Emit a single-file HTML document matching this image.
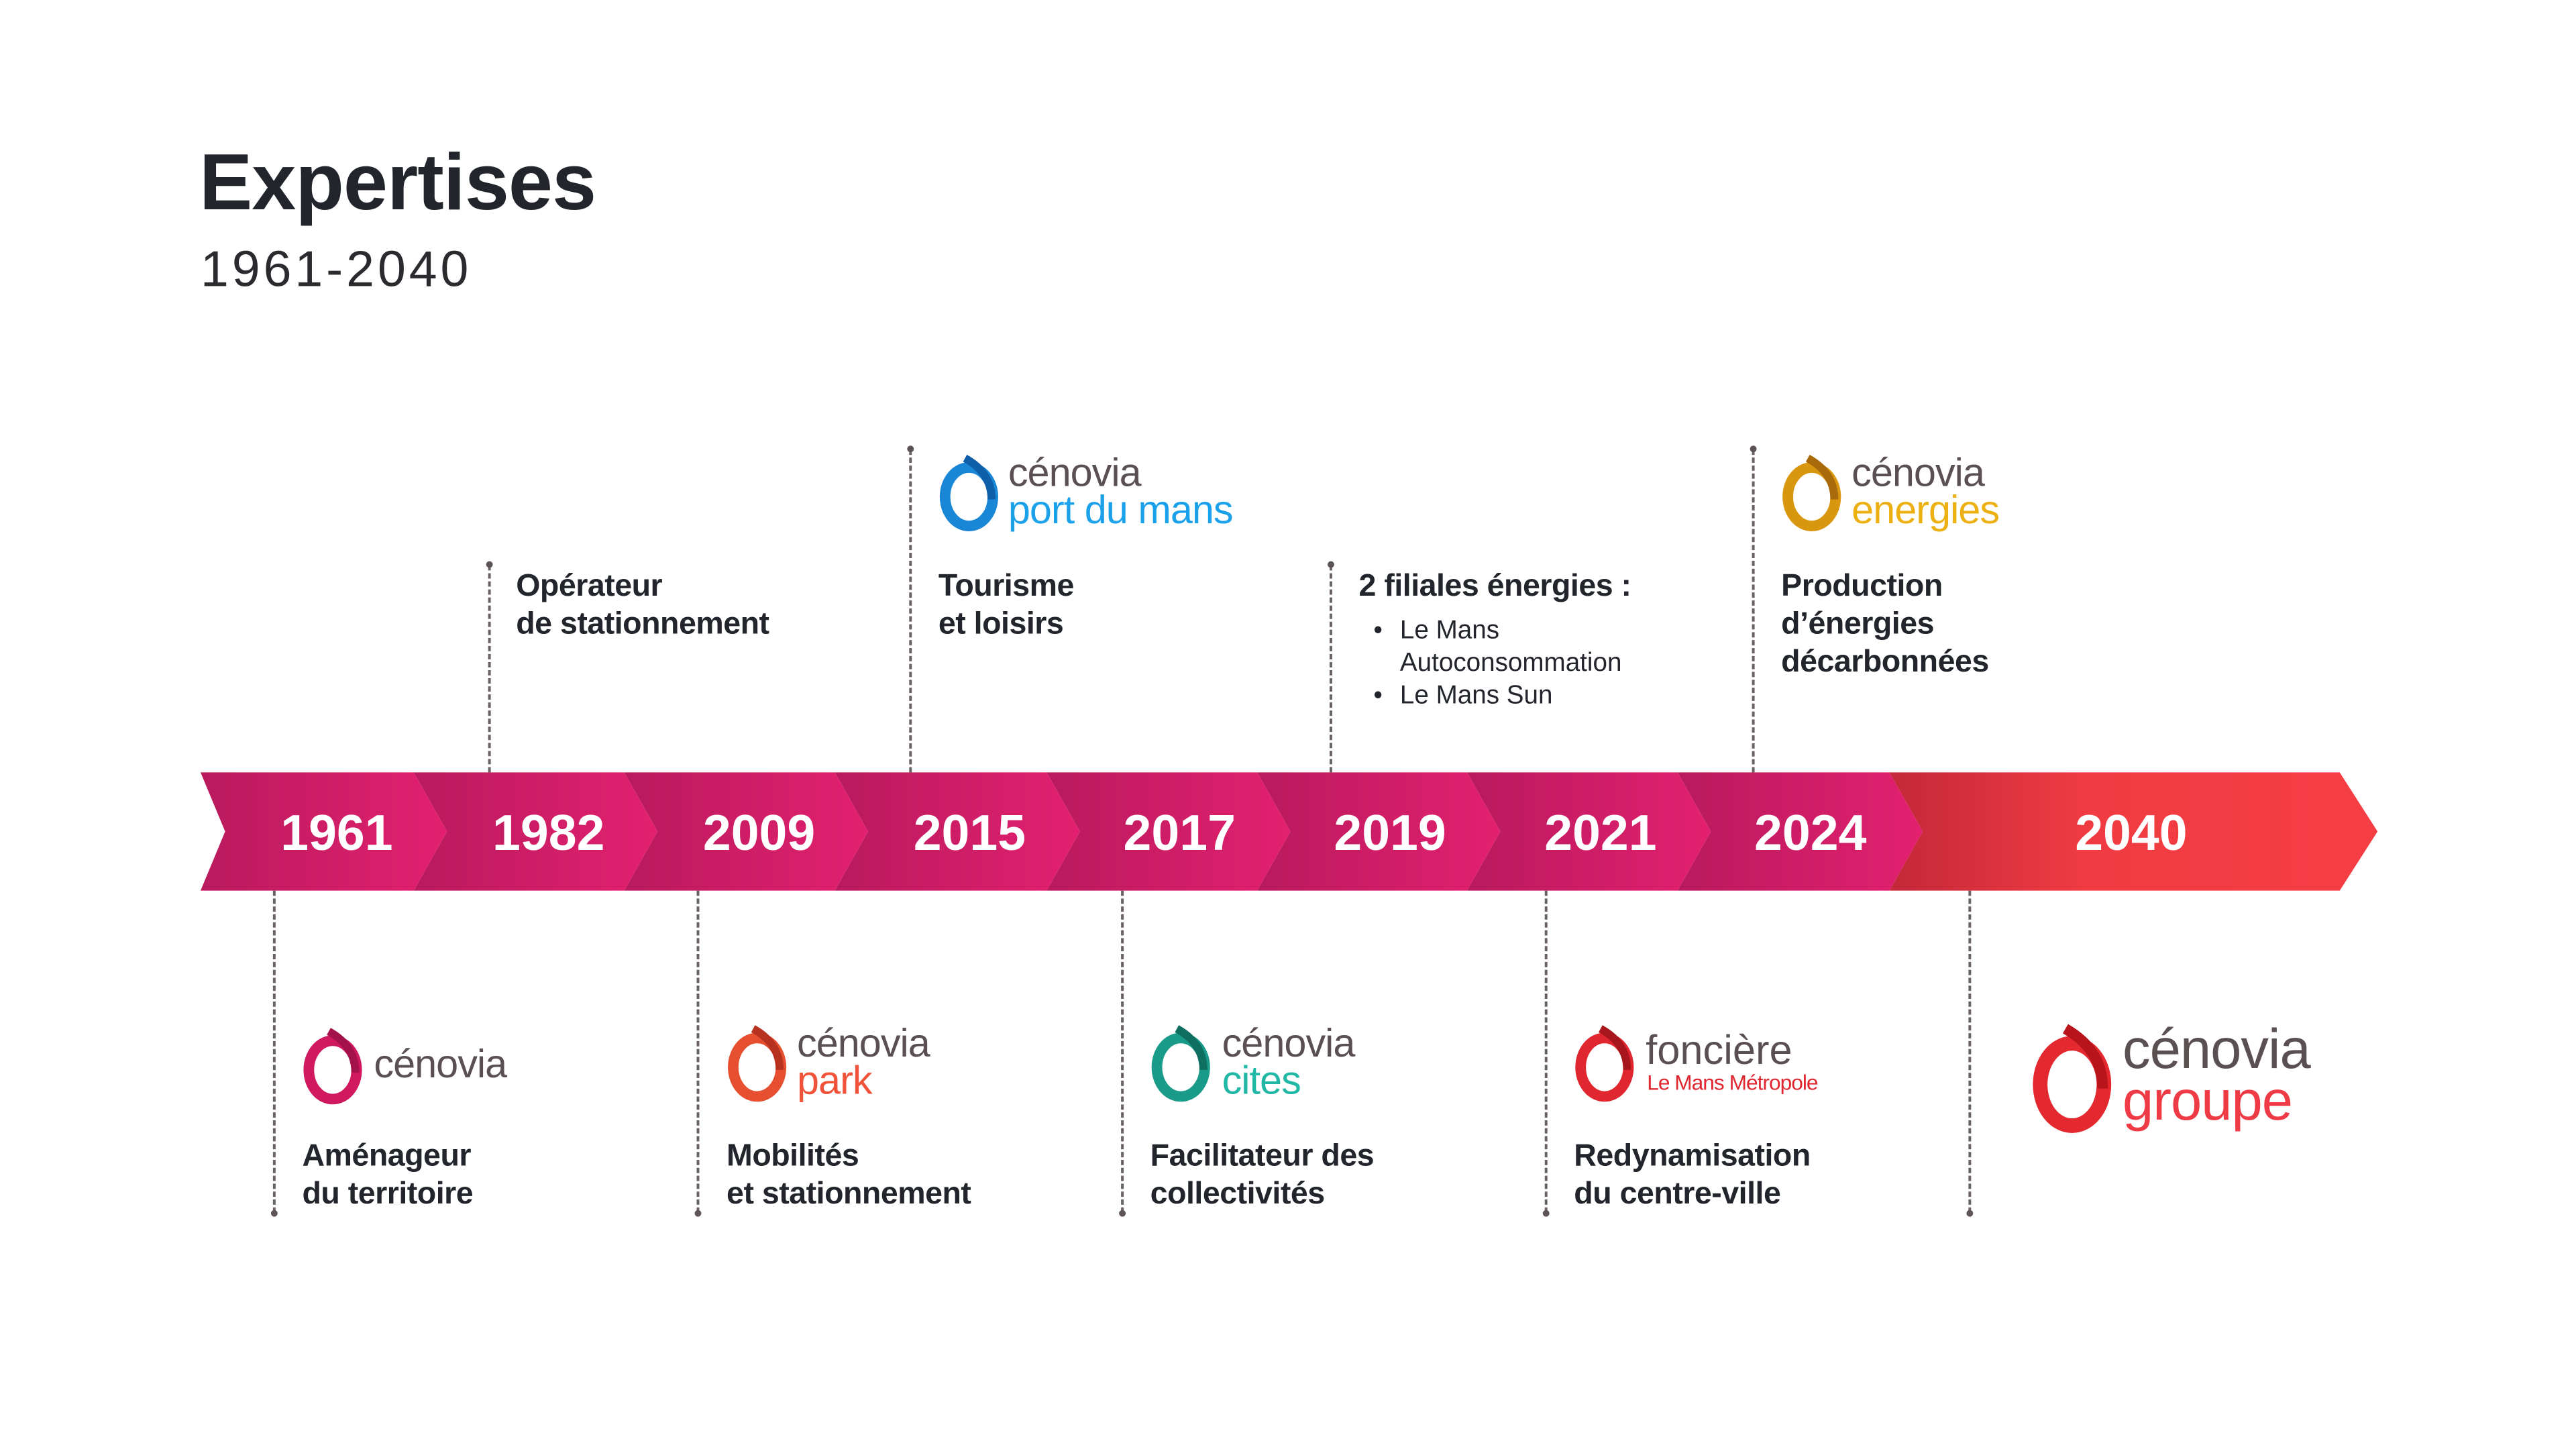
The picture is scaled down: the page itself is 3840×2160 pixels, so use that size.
<!DOCTYPE html>
<html><head><meta charset="utf-8">
<style>
body{margin:0;width:3840px;height:2160px;background:#fff;position:relative;overflow:hidden;font-family:"Liberation Sans",sans-serif;color:#23252d}
#w{position:absolute;left:0;top:0;width:3880px;height:2182px;transform:scale(0.99);transform-origin:0 0}
.a{position:absolute;white-space:nowrap}
.t{font-size:47px;line-height:57px;font-weight:bold;letter-spacing:-0.5px}
.b{font-size:39px;line-height:49px}
.lg{font-size:60px;line-height:56px;letter-spacing:-1px}
.g{color:#5b5051}
.dash{position:absolute;width:0;border-left:4px dashed #6a6163}
.dot{position:absolute;width:10px;height:10px;border-radius:5px;background:#5b5356}
</style></head><body><div id="w">
<div class="a" style="left:300px;top:205px;font-size:120px;font-weight:bold;letter-spacing:-1px">Expertises</div>
<div class="a" style="left:302px;top:362px;font-size:76px;color:#2b2b2f;letter-spacing:5px">1961-2040</div>

<svg class="a" style="left:0;top:0" width="3880" height="2182">
<defs>
<linearGradient id="p" x1="0" x2="1"><stop offset="0" stop-color="#b91a5d"/><stop offset="1" stop-color="#e3206f"/></linearGradient>
<linearGradient id="r" x1="0" x2="1"><stop offset="0" stop-color="#c3283a"/><stop offset="0.4" stop-color="#f03b42"/><stop offset="1" stop-color="#f53e44"/></linearGradient>
</defs>
<polygon points="2845,1163 3523,1163 3580,1252 3523,1341 2845,1341 2895,1252" fill="url(#r)"/>
<polygon points="2526,1163 2845,1163 2895,1252 2845,1341 2526,1341 2576,1252" fill="url(#p)"/>
<polygon points="2209,1163 2526,1163 2576,1252 2526,1341 2209,1341 2259,1252" fill="url(#p)"/>
<polygon points="1893,1163 2209,1163 2259,1252 2209,1341 1893,1341 1943,1252" fill="url(#p)"/>
<polygon points="1576,1163 1893,1163 1943,1252 1893,1341 1576,1341 1626,1252" fill="url(#p)"/>
<polygon points="1257,1163 1576,1163 1626,1252 1576,1341 1257,1341 1307,1252" fill="url(#p)"/>
<polygon points="940,1163 1257,1163 1307,1252 1257,1341 940,1341 990,1252" fill="url(#p)"/>
<polygon points="623,1163 940,1163 990,1252 940,1341 623,1341 673,1252" fill="url(#p)"/>
<polygon points="302,1163 623,1163 673,1252 623,1341 302,1341 339,1252" fill="url(#p)"/>
<g fill="#fff" font-family="Liberation Sans" font-weight="bold" font-size="76" text-anchor="middle">
<text x="507" y="1280">1961</text><text x="826" y="1280">1982</text><text x="1143" y="1280">2009</text>
<text x="1460" y="1280">2015</text><text x="1776" y="1280">2017</text><text x="2093" y="1280">2019</text>
<text x="2410" y="1280">2021</text><text x="2726" y="1280">2024</text><text x="3209" y="1280">2040</text>
</g>
</svg>

<div class="dash" style="left:735px;top:851px;height:312px"></div><div class="dot" style="left:732px;top:845px"></div>
<div class="dash" style="left:1369px;top:677px;height:486px"></div><div class="dot" style="left:1366px;top:671px"></div>
<div class="dash" style="left:2002px;top:851px;height:312px"></div><div class="dot" style="left:1999px;top:845px"></div>
<div class="dash" style="left:2638px;top:677px;height:486px"></div><div class="dot" style="left:2635px;top:671px"></div>
<div class="dash" style="left:411px;top:1341px;height:485px"></div><div class="dot" style="left:408px;top:1822px"></div>
<div class="dash" style="left:1049px;top:1341px;height:485px"></div><div class="dot" style="left:1046px;top:1822px"></div>
<div class="dash" style="left:1688px;top:1341px;height:485px"></div><div class="dot" style="left:1685px;top:1822px"></div>
<div class="dash" style="left:2326px;top:1341px;height:485px"></div><div class="dot" style="left:2323px;top:1822px"></div>
<div class="dash" style="left:2964px;top:1341px;height:485px"></div><div class="dot" style="left:2961px;top:1822px"></div>

<div class="a t" style="left:777px;top:852px">Opérateur<br>de stationnement</div>
<div class="a t" style="left:1413px;top:852px">Tourisme<br>et loisirs</div>
<div class="a t" style="left:2046px;top:852px">2 filiales énergies :</div>
<div class="a b" style="left:2068px;top:924px">•<br><br>•</div>
<div class="a b" style="left:2108px;top:924px">Le Mans<br>Autoconsommation<br>Le Mans Sun</div>
<div class="a t" style="left:2682px;top:852px">Production<br>d’énergies<br>décarbonnées</div>

<div class="a t" style="left:455px;top:1710px">Aménageur<br>du territoire</div>
<div class="a t" style="left:1094px;top:1710px">Mobilités<br>et stationnement</div>
<div class="a t" style="left:1732px;top:1710px">Facilitateur des<br>collectivités</div>
<div class="a t" style="left:2370px;top:1710px">Redynamisation<br>du centre-ville</div>

<svg class="a" style="left:1413px;top:682px" width="96" height="118"><ellipse cx="46" cy="66" rx="36" ry="44" fill="none" stroke="#1a86d6" stroke-width="16"/><path d="M40 8 Q80 30 80 70" fill="none" stroke="#0f5ea8" stroke-width="12"/></svg>
<div class="a lg" style="left:1518px;top:684px"><span class="g">cénovia</span><br><span style="color:#1ba0ea">port du mans</span></div>

<svg class="a" style="left:2682px;top:682px" width="96" height="118"><ellipse cx="46" cy="66" rx="36" ry="44" fill="none" stroke="#d9970f" stroke-width="16"/><path d="M40 8 Q80 30 80 70" fill="none" stroke="#a86a0a" stroke-width="12"/></svg>
<div class="a lg" style="left:2788px;top:684px"><span class="g">cénovia</span><br><span style="color:#ecb012">energies</span></div>

<svg class="a" style="left:455px;top:1545px" width="96" height="118"><ellipse cx="46" cy="66" rx="36" ry="44" fill="none" stroke="#d0195f" stroke-width="16"/><path d="M40 8 Q80 30 80 70" fill="none" stroke="#a3124a" stroke-width="12"/></svg>
<div class="a lg" style="left:563px;top:1574px"><span class="g">cénovia</span></div>

<svg class="a" style="left:1094px;top:1541px" width="96" height="118"><ellipse cx="46" cy="66" rx="36" ry="44" fill="none" stroke="#e65030" stroke-width="16"/><path d="M40 8 Q80 30 80 70" fill="none" stroke="#b83220" stroke-width="12"/></svg>
<div class="a lg" style="left:1200px;top:1543px"><span class="g">cénovia</span><br><span style="color:#f0533a">park</span></div>

<svg class="a" style="left:1732px;top:1541px" width="96" height="118"><ellipse cx="46" cy="66" rx="36" ry="44" fill="none" stroke="#1a9a88" stroke-width="16"/><path d="M40 8 Q80 30 80 70" fill="none" stroke="#0e6e60" stroke-width="12"/></svg>
<div class="a lg" style="left:1840px;top:1543px"><span class="g">cénovia</span><br><span style="color:#20b8a4">cites</span></div>

<svg class="a" style="left:2370px;top:1541px" width="96" height="118"><ellipse cx="46" cy="66" rx="36" ry="44" fill="none" stroke="#e0262f" stroke-width="16"/><path d="M40 8 Q80 30 80 70" fill="none" stroke="#a8161d" stroke-width="12"/></svg>
<div class="a" style="left:2478px;top:1552px;font-size:62px;line-height:60px;color:#5b5051">foncière</div>
<div class="a" style="left:2480px;top:1612px;font-size:32px;color:#e0262f;letter-spacing:-1px">Le Mans Métropole</div>

<svg class="a" style="left:3058px;top:1541px" width="128" height="166"><ellipse cx="62" cy="92" rx="48" ry="62" fill="none" stroke="#e3282f" stroke-width="22"/><path d="M52 8 Q108 40 108 98" fill="none" stroke="#b8141c" stroke-width="16"/></svg>
<div class="a" style="left:3196px;top:1540px;font-size:84px;line-height:78px;letter-spacing:-1px"><span class="g">cénovia</span><br><span style="color:#ef3b45">groupe</span></div>
</div></body></html>
